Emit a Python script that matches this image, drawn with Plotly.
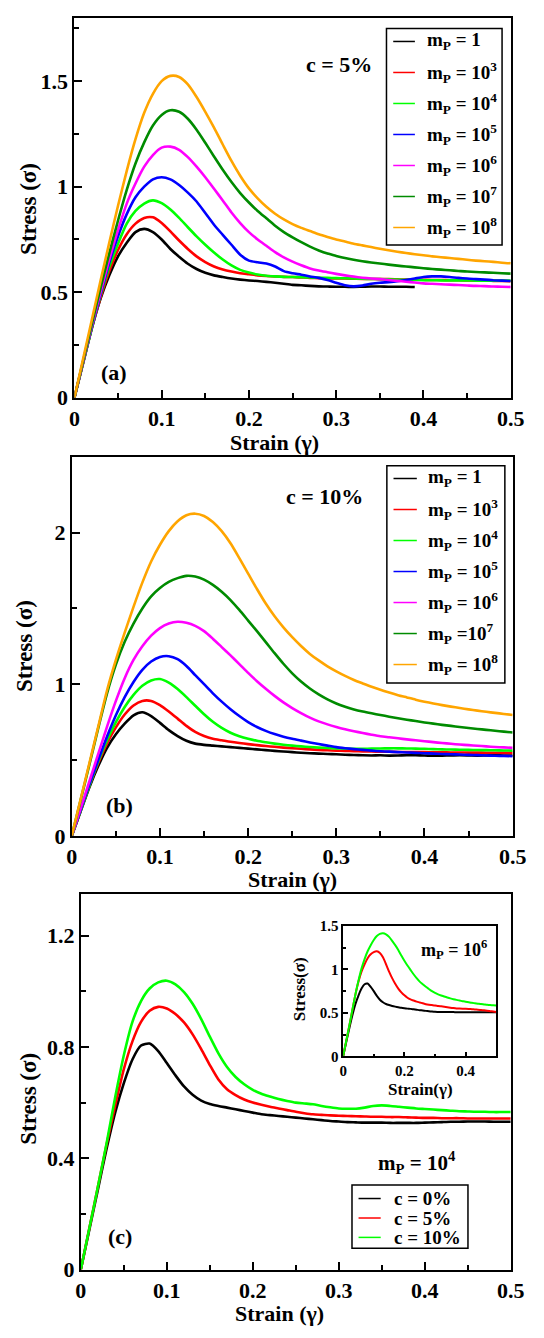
import plotly.graph_objects as go

W, H = 544, 1338
FONT = "Liberation Serif"

# shared strain samples (gamma)
STRAIN = [0.00, 0.01, 0.02, 0.03, 0.04, 0.05, 0.06, 0.07, 0.08, 0.09,
          0.10, 0.11, 0.12, 0.13, 0.14, 0.15, 0.16, 0.17, 0.18, 0.19,
          0.20, 0.21, 0.22, 0.23, 0.24, 0.25, 0.26, 0.27, 0.28, 0.29,
          0.30, 0.31, 0.32, 0.33, 0.34, 0.35, 0.36, 0.37, 0.38, 0.39,
          0.40, 0.41, 0.42, 0.43, 0.44, 0.45, 0.46, 0.47, 0.48, 0.49,
          0.50]

# ---- (a) c = 5 % ----------------------------------------------------------
A_MP1 = [0, 0.165, 0.33, 0.47, 0.58, 0.67, 0.735, 0.785, 0.80, 0.785,
         0.75, 0.705, 0.668, 0.635, 0.61, 0.592, 0.58, 0.572, 0.565, 0.56,
         0.556, 0.553, 0.549, 0.545, 0.54, 0.535, 0.533, 0.53, 0.528, 0.527,
         0.526, 0.526, 0.525, 0.526, 0.527, 0.527, 0.526, 0.526, 0.526, 0.525,
         None, None, None, None, None, None, None, None, None, None,
         None]
A_MP1E3 = [0, 0.165, 0.33, 0.475, 0.60, 0.70, 0.775, 0.825, 0.852, 0.855,
           0.828, 0.788, 0.745, 0.705, 0.67, 0.643, 0.622, 0.608, 0.598, 0.59,
           0.585, 0.58, 0.577, 0.575, 0.573, 0.572, 0.57, 0.568, 0.567, 0.566,
           0.565, 0.565, 0.564, 0.563, 0.563, 0.562, 0.562, 0.561, 0.56, 0.56,
           0.559, 0.558, 0.558, 0.557, 0.557, 0.556, 0.555, 0.555, 0.554, 0.553,
           0.552]
A_MP1E4 = [0, 0.165, 0.33, 0.485, 0.62, 0.73, 0.825, 0.885, 0.92, 0.935,
           0.922, 0.892, 0.852, 0.808, 0.765, 0.725, 0.688, 0.655, 0.627, 0.606,
           0.593, 0.584, 0.578, 0.575, 0.573, 0.572, 0.571, 0.57, 0.569, 0.568,
           0.567, 0.566, 0.565, 0.564, 0.563, 0.562, 0.561, 0.56, 0.559, 0.558,
           0.557, 0.557, 0.556, 0.556, 0.556, 0.556, 0.555, 0.555, 0.555, 0.555,
           0.555]
A_MP1E5 = [0, 0.17, 0.335, 0.49, 0.64, 0.765, 0.87, 0.95, 1.0, 1.035,
           1.045, 1.035, 1.008, 0.972, 0.93, 0.875, 0.82, 0.772, 0.725, 0.678,
           0.65, 0.642, 0.636, 0.622, 0.60, 0.59, 0.583, 0.575, 0.568, 0.558,
           0.545, 0.533, 0.528, 0.532, 0.54, 0.545, 0.548, 0.552, 0.558, 0.565,
           0.572, 0.575, 0.575, 0.572, 0.568, 0.565, 0.562, 0.56, 0.557, 0.555,
           0.553]
A_MP1E6 = [0, 0.17, 0.34, 0.50, 0.655, 0.795, 0.92, 1.015, 1.095, 1.15,
           1.185, 1.19, 1.175, 1.14, 1.095, 1.045, 0.99, 0.935, 0.878, 0.828,
           0.785, 0.75, 0.72, 0.69, 0.665, 0.645, 0.628, 0.613, 0.603, 0.595,
           0.587, 0.58, 0.574, 0.569, 0.565, 0.562, 0.558, 0.554, 0.55, 0.546,
           0.542, 0.54, 0.538, 0.536, 0.534, 0.532, 0.53, 0.529, 0.527, 0.526,
           0.525]
A_MP1E7 = [0, 0.175, 0.35, 0.52, 0.685, 0.84, 0.985, 1.11, 1.21, 1.29,
           1.34, 1.362, 1.355, 1.322, 1.27, 1.208, 1.143, 1.08, 1.022, 0.97,
           0.925, 0.885, 0.85, 0.815, 0.785, 0.76, 0.737, 0.716, 0.698, 0.683,
           0.672, 0.662, 0.654, 0.647, 0.641, 0.636, 0.631, 0.626, 0.622, 0.618,
           0.614, 0.61, 0.607, 0.604, 0.601, 0.598, 0.596, 0.594, 0.592, 0.59,
           0.588]
A_MP1E8 = [0, 0.185, 0.37, 0.555, 0.735, 0.91, 1.075, 1.225, 1.35, 1.44,
           1.50, 1.525, 1.52, 1.485, 1.425, 1.355, 1.28, 1.2, 1.122, 1.052,
           0.992, 0.945, 0.905, 0.872, 0.845, 0.823, 0.805, 0.79, 0.775, 0.762,
           0.75, 0.74, 0.73, 0.722, 0.714, 0.706, 0.699, 0.692, 0.686, 0.68,
           0.675, 0.67, 0.666, 0.662, 0.658, 0.654, 0.65, 0.647, 0.644, 0.64,
           0.637]

# ---- (b) c = 10 % ---------------------------------------------------------
B_MP1 = [0, 0.16, 0.32, 0.46, 0.58, 0.67, 0.74, 0.795, 0.815, 0.79,
         0.745, 0.697, 0.658, 0.627, 0.608, 0.6, 0.595, 0.59, 0.585, 0.58,
         0.575, 0.57, 0.565, 0.56, 0.556, 0.552, 0.548, 0.545, 0.542, 0.54,
         0.538, 0.535, 0.533, 0.531, 0.53, 0.531, 0.529, 0.53, 0.532, 0.531,
         0.53, 0.528, 0.529, 0.53, 0.531, 0.53, 0.529, 0.53, 0.531, 0.53,
         0.53]
B_MP1E3 = [0, 0.165, 0.33, 0.48, 0.61, 0.715, 0.8, 0.86, 0.89, 0.89,
           0.862, 0.82, 0.773, 0.725, 0.685, 0.658, 0.64, 0.63, 0.62, 0.612,
           0.605, 0.598, 0.592, 0.587, 0.582, 0.578, 0.574, 0.57, 0.567, 0.564,
           0.562, 0.56, 0.558, 0.557, 0.556, 0.555, 0.554, 0.553, 0.553, 0.552,
           0.552, 0.551, 0.551, 0.55, 0.55, 0.549, 0.549, 0.548, 0.548, 0.547,
           0.547]
B_MP1E4 = [0, 0.165, 0.33, 0.49, 0.63, 0.75, 0.85, 0.93, 0.99, 1.025,
           1.034, 1.01, 0.968, 0.915, 0.858, 0.802, 0.752, 0.712, 0.68, 0.657,
           0.64, 0.627, 0.617, 0.608, 0.601, 0.595, 0.59, 0.586, 0.582, 0.579,
           0.577, 0.575, 0.574, 0.574, 0.575, 0.576, 0.577, 0.577, 0.576, 0.575,
           0.574, 0.572, 0.57, 0.569, 0.568, 0.567, 0.566, 0.565, 0.564, 0.563,
           0.562]
B_MP1E5 = [0, 0.17, 0.34, 0.5, 0.655, 0.795, 0.915, 1.015, 1.095, 1.15,
           1.18, 1.185, 1.165, 1.12, 1.06, 1.0, 0.94, 0.885, 0.835, 0.79,
           0.75, 0.718, 0.692, 0.671, 0.654, 0.64, 0.628, 0.616, 0.605, 0.595,
           0.585, 0.578, 0.572, 0.567, 0.562, 0.558, 0.555, 0.552, 0.55, 0.547,
           0.545, 0.542, 0.54, 0.538, 0.536, 0.534, 0.532, 0.53, 0.528, 0.527,
           0.525]
B_MP1E6 = [0, 0.18, 0.36, 0.54, 0.72, 0.89, 1.04, 1.16, 1.25, 1.32,
           1.37, 1.4, 1.412, 1.405, 1.385, 1.35, 1.3, 1.245, 1.19, 1.133,
           1.075, 1.02, 0.97, 0.923, 0.88, 0.843, 0.81, 0.78, 0.755, 0.735,
           0.718, 0.703, 0.69, 0.678, 0.667, 0.657, 0.65, 0.643, 0.636, 0.63,
           0.624, 0.618, 0.612, 0.607, 0.602, 0.598, 0.594, 0.59, 0.586, 0.583,
           0.58]
B_MP1E7 = [0, 0.235, 0.47, 0.71, 0.94, 1.13, 1.28, 1.4, 1.5, 1.58,
           1.635, 1.675, 1.7, 1.715, 1.71, 1.69, 1.655, 1.61, 1.555, 1.49,
           1.42, 1.35, 1.278, 1.205, 1.135, 1.072, 1.018, 0.972, 0.933, 0.9,
           0.873, 0.852, 0.834, 0.82, 0.808, 0.797, 0.786, 0.776, 0.766, 0.757,
           0.748, 0.74, 0.732, 0.725, 0.718, 0.711, 0.705, 0.699, 0.693, 0.687,
           0.682]
B_MP1E8 = [0, 0.24, 0.48, 0.72, 0.96, 1.16, 1.34, 1.51, 1.67, 1.81,
           1.92, 2.01, 2.075, 2.115, 2.125, 2.11, 2.07, 2.01, 1.93, 1.832,
           1.73, 1.628, 1.532, 1.448, 1.375, 1.31, 1.252, 1.2, 1.157, 1.118,
           1.085, 1.055, 1.028, 1.005, 0.983, 0.963, 0.945, 0.928, 0.913, 0.898,
           0.885, 0.873, 0.862, 0.852, 0.843, 0.834, 0.826, 0.818, 0.811, 0.804,
           0.797]

# ---- (c) m_P = 10^4, varying c ---------------------------------------------
C_0 = [0, 0.145, 0.29, 0.435, 0.565, 0.67, 0.755, 0.805, 0.812, 0.785,
       0.742, 0.698, 0.658, 0.628, 0.607, 0.595, 0.588, 0.582, 0.576, 0.57,
       0.564, 0.558, 0.555, 0.552, 0.549, 0.546, 0.543, 0.54, 0.537, 0.534,
       0.532, 0.53, 0.529, 0.528, 0.528, 0.528, 0.527, 0.527, 0.527, 0.527,
       0.528, 0.529, 0.53, 0.531, 0.531, 0.532, 0.532, 0.532, 0.531, 0.531,
       0.531]
C_5 = [0, 0.15, 0.3, 0.45, 0.59, 0.72, 0.82, 0.89, 0.93, 0.944,
       0.938, 0.918, 0.888, 0.845, 0.792, 0.735, 0.683, 0.648, 0.627, 0.611,
       0.6, 0.592, 0.585, 0.579, 0.573, 0.567, 0.562, 0.558, 0.556, 0.554,
       0.553, 0.552, 0.551, 0.55, 0.549, 0.549, 0.548, 0.548, 0.547, 0.546,
       0.545, 0.545, 0.544, 0.544, 0.544, 0.543, 0.543, 0.543, 0.543, 0.543,
       0.543]
C_10 = [0, 0.15, 0.3, 0.455, 0.62, 0.77, 0.89, 0.965, 1.01, 1.032,
        1.038, 1.025, 0.997, 0.955, 0.9, 0.837, 0.777, 0.728, 0.692, 0.666,
        0.646, 0.632, 0.622, 0.613, 0.606, 0.6, 0.597, 0.594, 0.588, 0.583,
        0.579, 0.578, 0.578, 0.582, 0.588, 0.59, 0.588, 0.585, 0.582, 0.579,
        0.577, 0.575, 0.573, 0.571, 0.569, 0.568, 0.567, 0.567, 0.566, 0.566,
        0.566]

# ---- inset: m_P = 10^6, varying c ------------------------------------------
I_0 = [0, 0.16, 0.32, 0.47, 0.6, 0.7, 0.78, 0.83, 0.838, 0.8,
       0.75, 0.695, 0.652, 0.622, 0.602, 0.59, 0.58, 0.572, 0.565, 0.558,
       0.553, 0.549, 0.546, 0.541, 0.536, 0.531, 0.527, 0.523, 0.519, 0.515,
       0.512, 0.511, 0.51, 0.51, 0.509, 0.509, 0.509, 0.508, 0.508, 0.508,
       0.508, 0.508, 0.507, 0.507, 0.507, 0.507, 0.506, 0.506, 0.506, 0.506,
       0.506]
I_5 = [0, 0.175, 0.35, 0.53, 0.71, 0.86, 0.975, 1.06, 1.13, 1.175,
       1.2, 1.209, 1.19, 1.14, 1.06, 0.975, 0.9, 0.835, 0.78, 0.737,
       0.702, 0.674, 0.655, 0.642, 0.63, 0.62, 0.61, 0.6, 0.594, 0.59,
       0.586, 0.58, 0.575, 0.57, 0.565, 0.56, 0.555, 0.551, 0.549, 0.548,
       0.548, 0.546, 0.543, 0.54, 0.537, 0.533, 0.529, 0.525, 0.52, 0.515,
       0.51]
I_10 = [0, 0.175, 0.35, 0.53, 0.71, 0.87, 1.01, 1.12, 1.21, 1.28,
        1.34, 1.385, 1.41, 1.417, 1.405, 1.375, 1.33, 1.28, 1.225, 1.16,
        1.1, 1.045, 0.995, 0.945, 0.9, 0.86, 0.83, 0.8, 0.775, 0.75,
        0.73, 0.713, 0.7, 0.688, 0.677, 0.667, 0.658, 0.65, 0.642, 0.635,
        0.628, 0.622, 0.616, 0.611, 0.606, 0.601, 0.597, 0.593, 0.59, 0.588,
        0.586]

BLACK, RED, GREEN, BLUE = "#000000", "#ff0000", "#00ff00", "#0000ff"
MAGENTA, DKGREEN, ORANGE = "#ff00ff", "#008b00", "#ffa500"
MP_COLORS = [BLACK, RED, GREEN, BLUE, MAGENTA, DKGREEN, ORANGE]

MP_LABELS_A = ["m<sub>P</sub> = 1", "m<sub>P</sub> = 10<sup>3</sup>",
               "m<sub>P</sub> = 10<sup>4</sup>", "m<sub>P</sub> = 10<sup>5</sup>",
               "m<sub>P</sub> = 10<sup>6</sup>", "m<sub>P</sub> = 10<sup>7</sup>",
               "m<sub>P</sub> = 10<sup>8</sup>"]
MP_LABELS_B = ["m<sub>P</sub> = 1", "m<sub>P</sub> = 10<sup>3</sup>",
               "m<sub>P</sub> = 10<sup>4</sup>", "m<sub>P</sub> = 10<sup>5</sup>",
               "m<sub>P</sub> = 10<sup>6</sup>", "m<sub>P</sub> =10<sup>7</sup>",
               "m<sub>P</sub> = 10<sup>8</sup>"]
C_LABELS = ["c = 0%", "c = 5%", "c = 10%"]


def fx(px):
    return px / W


def fy(py):
    return 1 - py / H


fig = go.Figure()

series_a = [A_MP1, A_MP1E3, A_MP1E4, A_MP1E5, A_MP1E6, A_MP1E7, A_MP1E8]
series_b = [B_MP1, B_MP1E3, B_MP1E4, B_MP1E5, B_MP1E6, B_MP1E7, B_MP1E8]


def curve(vals, col, xa, ya, width=2.6):
    fig.add_trace(go.Scatter(x=STRAIN, y=vals, mode="lines", xaxis=xa, yaxis=ya,
                             line=dict(color=col, width=width, shape="spline", smoothing=0.7),
                             showlegend=False, hoverinfo="skip"))


for vals, col in zip(series_a, MP_COLORS):
    curve(vals, col, "x", "y")
for vals, col in zip(series_b, MP_COLORS):
    curve(vals, col, "x2", "y2")
for vals, col in zip([C_0, C_5, C_10], [BLACK, RED, GREEN]):
    curve(vals, col, "x3", "y3")
for vals, col in zip([I_0, I_5, I_10], [BLACK, RED, GREEN]):
    curve(vals, col, "x4", "y4", width=2.0)


def axis(dom, rng, dtick, minor, size=22, ticklen=8, mticklen=5, anchor=None, lw=2):
    return dict(domain=dom, range=rng, dtick=dtick, tick0=0, anchor=anchor,
                showline=True, linecolor="black", linewidth=lw, mirror=True,
                ticks="inside", ticklen=ticklen, tickwidth=1.5, tickcolor="black",
                tickfont=dict(family=FONT, size=size, color="black", weight="bold"),
                minor=dict(ticks="inside", ticklen=mticklen, tickwidth=1.5,
                           tickcolor="black", dtick=minor, tick0=0),
                showgrid=False, zeroline=False, fixedrange=True)


# plot boxes in pixels: (left, right, top, bottom)
BOX_A = (71, 524, 10, 396)
BOX_B = (68.3, 526, 456, 841)
BOX_C = (77.7, 524, 900, 1281.7)
BOX_I = (350, 509, 932.7, 1065)


def xdom(b):
    return [fx(b[0]), fx(b[1])]


def ydom(b):
    return [fy(b[3]), fy(b[2])]


fig.update_layout(
    width=W, height=H, autosize=False,
    margin=dict(l=0, r=0, t=0, b=0),
    paper_bgcolor="white", plot_bgcolor="white",
    xaxis=axis(xdom(BOX_A), [0, 0.5], 0.1, 0.05, anchor="y"),
    yaxis=axis(ydom(BOX_A), [0, 1.8], 0.5, 0.25, anchor="x"),
    xaxis2=axis(xdom(BOX_B), [0, 0.5], 0.1, 0.05, anchor="y2"),
    yaxis2=axis(ydom(BOX_B), [0, 2.5], 1, 0.5, anchor="x2"),
    xaxis3=axis(xdom(BOX_C), [0, 0.5], 0.1, 0.05, anchor="y3"),
    yaxis3=axis(ydom(BOX_C), [0, 1.35], 0.4, 0.2, anchor="x3"),
    xaxis4=axis(xdom(BOX_I), [0, 0.5], 0.2, 0.1, size=15, ticklen=5, mticklen=3,
                anchor="y4", lw=1.5),
    yaxis4=axis(ydom(BOX_I), [0, 1.5], 0.5, 0.25, size=15, ticklen=5, mticklen=3,
                anchor="x4", lw=1.5),
)


def text(px, py, s, size, angle=0, xanchor="center"):
    fig.add_annotation(x=fx(px), y=fy(py), xref="paper", yref="paper", text=s,
                       showarrow=False, textangle=angle, xanchor=xanchor, yanchor="middle",
                       font=dict(family=FONT, size=size, color="black", weight="bold"))


# axis titles
text(279, 441, "Strain (γ)", 22)
text(24, 204, "Stress (σ)", 23, angle=-90)
text(297, 885, "Strain (γ)", 22)
text(20, 648, "Stress (σ)", 23, angle=-90)
text(284, 1326, "Strain (γ)", 22)
text(23, 1108, "Stress (σ)", 23, angle=-90)
text(430, 1099, "Strain(γ)", 17)
text(305, 997, "Stress(σ)", 17, angle=-90)

# panel labels and notes
text(345.7, 57, "c = 5%", 22)
text(112.6, 370, "(a)", 22)
text(330.8, 496, "c = 10%", 22)
text(117.6, 810, "(b)", 22)
text(118.5, 1248, "(c)", 22)
text(427, 1173, "m<sub>P</sub> = 10<sup>4</sup>", 21)
text(465, 957, "m<sub>P</sub> = 10<sup>6</sup>", 18)


def legend(box, sample, text_x, rows, labels, colors, size):
    x0, x1, y0, y1 = box
    fig.add_shape(type="rect", xref="paper", yref="paper",
                  x0=fx(x0), x1=fx(x1), y0=fy(y1), y1=fy(y0),
                  line=dict(color="black", width=1.5), fillcolor="white", layer="above")
    for ry, lab, col in zip(rows, labels, colors):
        fig.add_shape(type="line", xref="paper", yref="paper",
                      x0=fx(sample[0]), x1=fx(sample[1]), y0=fy(ry), y1=fy(ry),
                      line=dict(color=col, width=1.5), layer="above")
        text(text_x, ry, lab, size, xanchor="left")


legend((395, 515, 20.7, 240.7), (402, 424.5), 434.5,
       [34, 65.5, 97, 128.5, 160, 191.5, 223], MP_LABELS_A, MP_COLORS, 19)
legend((395.4, 517.9, 465, 685.7), (402.3, 426.5), 436.5,
       [478, 509.5, 541, 572.5, 604, 635.5, 667], MP_LABELS_B, MP_COLORS, 19)
legend((359.2, 479.6, 1195.7, 1260), (366, 389), 400.5,
       [1209.5, 1229.3, 1249], C_LABELS, [BLACK, RED, GREEN], 19)

fig.write_html("out.html")
